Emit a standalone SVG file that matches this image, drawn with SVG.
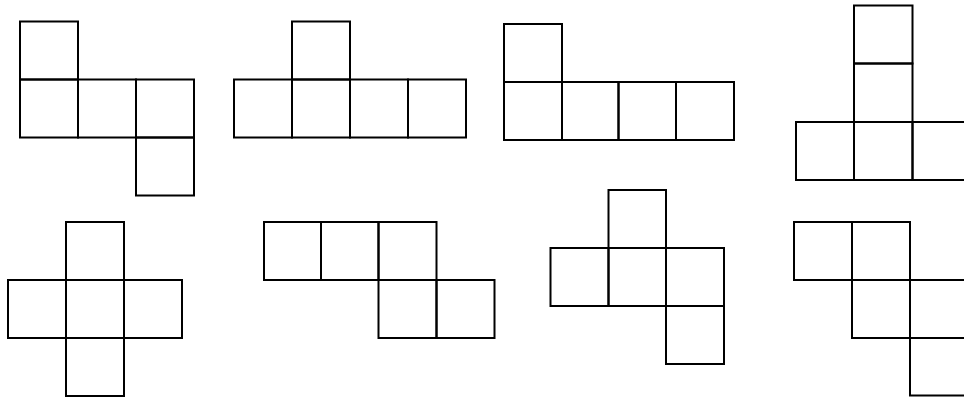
<svg xmlns="http://www.w3.org/2000/svg" width="964" height="399" viewBox="0 0 964 399">
<style>
rect.s{fill:none;stroke:#000;stroke-width:2}
</style>
<rect width="964" height="399" fill="#fff"/>
<g id="net1">
<rect class="s" x="20" y="21.5" width="58" height="58"/>
<rect class="s" x="20" y="79.5" width="58" height="58"/>
<rect class="s" x="78" y="79.5" width="58" height="58"/>
<rect class="s" x="136" y="79.5" width="58" height="58"/>
<rect class="s" x="136" y="137.5" width="58" height="58"/>
</g>
<g id="net2">
<rect class="s" x="292" y="21.5" width="58" height="58"/>
<rect class="s" x="234" y="79.5" width="58" height="58"/>
<rect class="s" x="292" y="79.5" width="58" height="58"/>
<rect class="s" x="350" y="79.5" width="58" height="58"/>
<rect class="s" x="408" y="79.5" width="58" height="58"/>
</g>
<g id="net3">
<rect class="s" x="504" y="24" width="58" height="58"/>
<rect class="s" x="504" y="82" width="58" height="58"/>
<rect class="s" x="562" y="82" width="56.5" height="58"/>
<rect class="s" x="618.5" y="82" width="57.5" height="58"/>
<rect class="s" x="676" y="82" width="58" height="58"/>
</g>
<g id="net4">
<rect class="s" x="854" y="5.5" width="58.5" height="58"/>
<rect class="s" x="854" y="63.5" width="58.5" height="58.5"/>
<rect class="s" x="796" y="122" width="58" height="58"/>
<rect class="s" x="854" y="122" width="58.5" height="58"/>
<rect class="s" x="912.5" y="122" width="58" height="58"/>
</g>
<g id="net5">
<rect class="s" x="66" y="222" width="58" height="58"/>
<rect class="s" x="8" y="280" width="58" height="58"/>
<rect class="s" x="66" y="280" width="58" height="58"/>
<rect class="s" x="124" y="280" width="58" height="58"/>
<rect class="s" x="66" y="338" width="58" height="58"/>
</g>
<g id="net6">
<rect class="s" x="264" y="222" width="57" height="58"/>
<rect class="s" x="321" y="222" width="57.5" height="58"/>
<rect class="s" x="378.5" y="222" width="58" height="58"/>
<rect class="s" x="378.5" y="280" width="58" height="58"/>
<rect class="s" x="436.5" y="280" width="58" height="58"/>
</g>
<g id="net7">
<rect class="s" x="608.5" y="190" width="57.5" height="58"/>
<rect class="s" x="550.5" y="248" width="58" height="58"/>
<rect class="s" x="608.5" y="248" width="57.5" height="58"/>
<rect class="s" x="666" y="248" width="58" height="58"/>
<rect class="s" x="666" y="306" width="58" height="58"/>
</g>
<g id="net8">
<rect class="s" x="794" y="222" width="58" height="58"/>
<rect class="s" x="852" y="222" width="58" height="58"/>
<rect class="s" x="852" y="280" width="58" height="58"/>
<rect class="s" x="910" y="280" width="58" height="58"/>
<rect class="s" x="910" y="338" width="58" height="57.5"/>
</g>
</svg>
